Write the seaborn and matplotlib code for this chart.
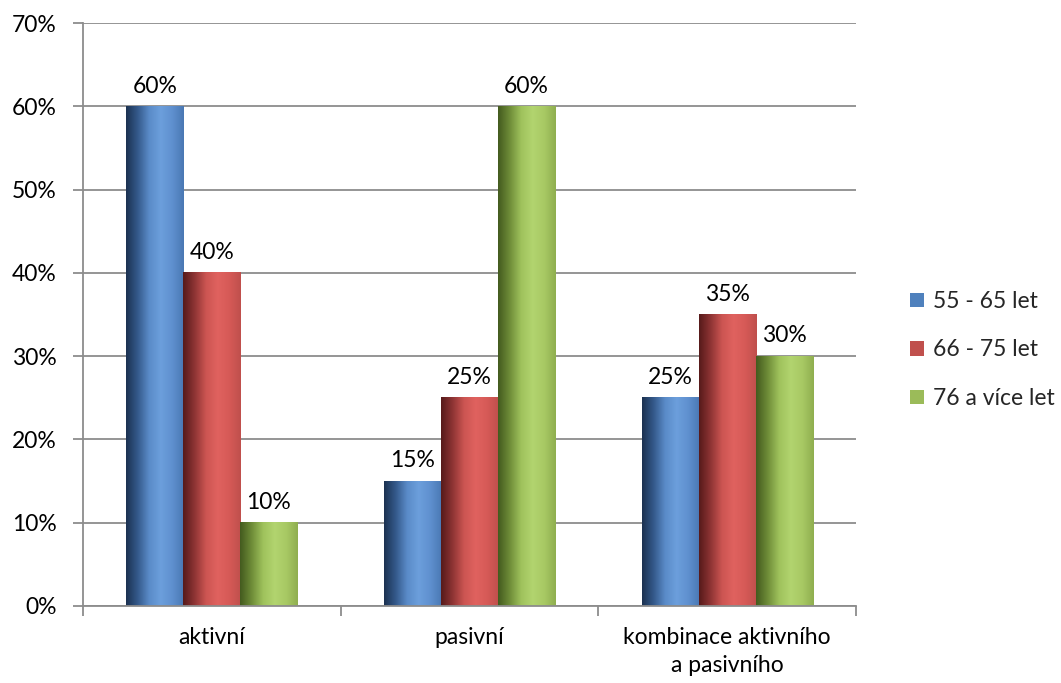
import numpy as np
import pandas as pd
import matplotlib
matplotlib.use("Agg")
import matplotlib.pyplot as plt
import seaborn as sns
from matplotlib.colors import LinearSegmentedColormap

categories = ["aktivní", "pasivní", "kombinace aktivního\na pasivního"]
groups = ["55 - 65 let", "66 - 75 let", "76 a více let"]
s_55_65 = [60, 15, 25]
s_66_75 = [40, 25, 35]
s_76 = [10, 60, 30]
yticks = [0, 10, 20, 30, 40, 50, 60, 70]

base_colors = ["#4f81bd", "#c0504d", "#9bbb59"]
gradients = [
    ["#1b3150", "#34598a", "#5a8bc8", "#6c9fdc", "#5f90cf", "#4a78b3"],
    ["#561a1a", "#8e3434", "#cc5552", "#e0625f", "#d65a57", "#bf4f4c"],
    ["#435a1e", "#6e8c38", "#9fc25c", "#b2d46f", "#a8c964", "#8fae4f"],
]

df = pd.DataFrame({
    "cat": np.repeat(categories, 3),
    "grp": groups * 3,
    "val": [v for trio in zip(s_55_65, s_66_75, s_76) for v in trio],
})

FS = 16.5

sns.set_theme(style="white")
plt.rcParams["font.family"] = ["Lato", "DejaVu Sans"]
plt.rcParams["font.size"] = FS

fig = plt.figure(figsize=(10.61, 6.83), dpi=100)
ax = fig.add_axes([83 / 1061, 1 - 606 / 683, (856 - 83) / 1061, (606 - 23) / 683])

sns.barplot(data=df, x="cat", y="val", hue="grp", hue_order=groups,
            palette=base_colors, width=0.664, gap=0, ax=ax,
            saturation=1, edgecolor="none", linewidth=0, errorbar=None)

# gradient overlay on each bar
for ci, cont in enumerate(ax.containers):
    cmap = LinearSegmentedColormap.from_list(f"g{ci}", gradients[ci])
    grad = np.linspace(0, 1, 256).reshape(1, -1)
    for p in cont.patches:
        x0 = p.get_x(); w = p.get_width(); h = p.get_height()
        ax.imshow(grad, cmap=cmap, extent=[x0, x0 + w, 0, h], aspect="auto",
                  zorder=p.get_zorder() + 0.1, interpolation="bicubic")
    ax.bar_label(cont, labels=[f"{int(round(v))}%" for v in cont.datavalues],
                 padding=7, fontsize=FS, color="#000000")

ax.set_xlim(-0.5, 2.5)
ax.set_ylim(0, 70)
ax.set_yticks(yticks)
ax.set_yticklabels([f"{t}%" for t in yticks], fontsize=FS, color="#000000")
ax.set_xticks(range(len(categories)))
ax.set_xticklabels(categories, fontsize=FS, color="#000000", linespacing=1.45)
ax.set_xticks([-0.5, 0.5, 1.5, 2.5], minor=True)
ax.tick_params(axis="x", which="major", length=0, pad=15)
ax.tick_params(axis="x", which="minor", length=7, width=1.3, color="#8c8c8c", bottom=True, direction="out")
ax.tick_params(axis="y", which="major", length=7, width=1.3, color="#8c8c8c", left=True, pad=12)
ax.set_xlabel("")
ax.set_ylabel("")

ax.grid(axis="y", color="#8c8c8c", linewidth=1.3)
ax.set_axisbelow(True)
for s in ["top", "right"]:
    ax.spines[s].set_visible(False)
for s in ["left", "bottom"]:
    ax.spines[s].set_color("#8c8c8c")
    ax.spines[s].set_linewidth(1.3)

handles, labels = ax.get_legend_handles_labels()
if ax.get_legend() is not None:
    ax.get_legend().remove()
fig.legend(handles, labels, loc="center left",
           bbox_to_anchor=(899 / 1061, 1 - 350 / 683), bbox_transform=fig.transFigure,
           frameon=False, fontsize=FS, handlelength=0.58, handleheight=0.58,
           handletextpad=0.4, labelspacing=1.2, borderpad=0)

fig.savefig("out.png", dpi=100, facecolor="white")
